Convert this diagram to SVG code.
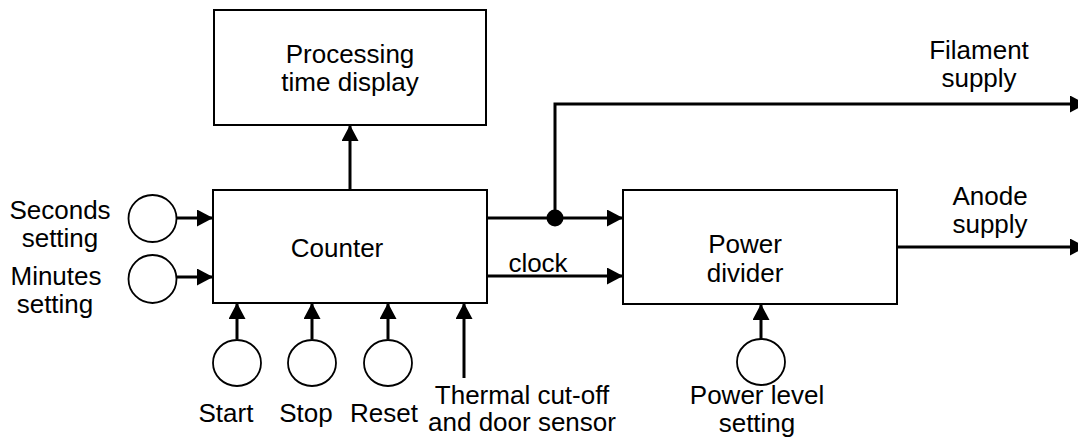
<svg xmlns="http://www.w3.org/2000/svg" width="1078" height="439" viewBox="0 0 1078 439">
<defs>
<style>
.box{fill:#fff;stroke:#000;stroke-width:2}
.circ{fill:#fff;stroke:#000;stroke-width:1.8}
.arr{fill:none;stroke:#000;stroke-width:3;marker-end:url(#ah)}
text{font-family:"Liberation Sans",Arial,sans-serif;font-size:26px;fill:#000;text-anchor:middle}
</style>
<marker id="ah" markerUnits="userSpaceOnUse" markerWidth="17" markerHeight="17" refX="16" refY="8.5" orient="auto">
<path d="M0,0 L16,8.5 L0,17 z" fill="#000"/>
</marker>
</defs>
<rect width="1078" height="439" fill="#fff"/>
<g id="connectors">
<line class="arr" x1="350" y1="190" x2="350" y2="125"/>
<line class="arr" x1="177" y1="218" x2="213" y2="218"/>
<line class="arr" x1="177" y1="277" x2="213" y2="277"/>
<line class="arr" x1="237" y1="339" x2="237" y2="303"/>
<line class="arr" x1="312" y1="339" x2="312" y2="303"/>
<line class="arr" x1="388" y1="339" x2="388" y2="303"/>
<line class="arr" x1="464" y1="378" x2="464" y2="303"/>
<line class="arr" x1="487" y1="218" x2="623" y2="218"/>
<line class="arr" x1="487" y1="276" x2="623" y2="276"/>
<polyline class="arr" points="555,218 555,104 1086,104"/>
<line class="arr" x1="897" y1="247" x2="1086" y2="247"/>
<line class="arr" x1="761" y1="339" x2="761" y2="304"/>
<circle cx="555" cy="218" r="8.5" fill="#000"/>
<text x="538" y="272">clock</text>
</g>
<g id="display">
<rect class="box" x="214" y="10" width="272" height="115"/>
<text x="350" y="63">Processing</text>
<text x="350" y="91">time display</text>
</g>
<g id="counter">
<rect class="box" x="213" y="190" width="274" height="113"/>
<text x="337" y="257">Counter</text>
</g>
<g id="power-divider">
<rect class="box" x="623" y="190" width="274" height="114"/>
<text x="745" y="253">Power</text>
<text x="745" y="282">divider</text>
</g>
<g id="seconds">
<ellipse class="circ" cx="152.5" cy="218.5" rx="24" ry="23.5"/>
<text x="60" y="219">Seconds</text>
<text x="60" y="247">setting</text>
</g>
<g id="minutes">
<ellipse class="circ" cx="152.5" cy="279" rx="24" ry="24"/>
<text x="56" y="285">Minutes</text>
<text x="55" y="313">setting</text>
</g>
<g id="start">
<ellipse class="circ" cx="237" cy="363" rx="24" ry="23"/>
<text x="226" y="422">Start</text>
</g>
<g id="stop">
<ellipse class="circ" cx="312" cy="363" rx="24" ry="23"/>
<text x="306" y="422">Stop</text>
</g>
<g id="reset">
<ellipse class="circ" cx="388" cy="363" rx="24" ry="23"/>
<text x="384" y="422">Reset</text>
</g>
<g id="thermal">
<text x="522" y="404">Thermal cut-off</text>
<text x="522" y="431">and door sensor</text>
</g>
<g id="power-level">
<ellipse class="circ" cx="761" cy="362" rx="24" ry="23"/>
<text x="757" y="404">Power level</text>
<text x="757" y="432">setting</text>
</g>
<g id="filament">
<text x="979" y="59">Filament</text>
<text x="979" y="87">supply</text>
</g>
<g id="anode">
<text x="990" y="205">Anode</text>
<text x="990" y="233">supply</text>
</g>
</svg>
